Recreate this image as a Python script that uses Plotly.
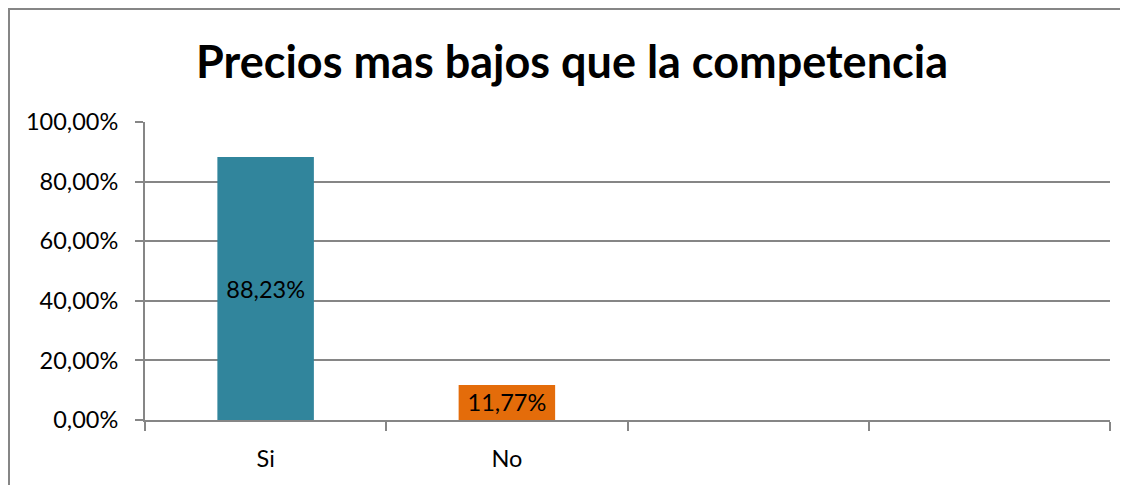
import plotly.graph_objects as go

## Data:
# ======================================
categorias = ["Si", "No"]
valores = [0.8823, 0.1177]
colores = ["#31859C", "#E46C0A"]
titulo = "Precios mas bajos que la competencia"

# posiciones van 0.5, 1.5 in 4 slots (Excel-like lege categorieen)
posities = [i + 0.5 for i in range(len(categorias))]
n_slots = 4

gris = "#868686"
fuente = "Lato, 'Open Sans', sans-serif"

## Figure:
# ======================================
fig = go.Figure()

fig.add_trace(go.Bar(
    x=posities,
    y=valores,
    width=0.4,
    marker=dict(color=colores, line=dict(width=0)),
    texttemplate="%{y:.2%}",
    textposition="inside",
    insidetextanchor="middle",
    textangle=0,
    textfont=dict(size=23.5, color="black", family=fuente),
    hoverinfo="none",
    showlegend=False,
))

# body heeft 8px marge -> figuur 1120x477
fig.update_layout(
    width=1120,
    height=477,
    separators=",.",
    paper_bgcolor="white",
    plot_bgcolor="white",
    margin=dict(l=137, r=18, t=114, b=65, autoexpand=False),
    font=dict(family=fuente, size=23.5, color="black"),
    title=dict(
        text="<b>" + titulo + "</b>",
        x=0.5036, xanchor="center",
        y=0.887, yanchor="middle",
        font=dict(size=45, color="black", family=fuente),
    ),
)

fig.update_xaxes(
    range=[0, n_slots],
    tickvals=posities,
    ticktext=categorias,
    ticks="",
    ticklabelstandoff=17,
    automargin=False,
    showgrid=False,
    showline=True,
    linecolor=gris,
    linewidth=2,
    zeroline=False,
    minor=dict(
        tickvals=list(range(n_slots + 1)),
        ticks="outside",
        ticklen=9,
        tickcolor=gris,
        tickwidth=2,
        showgrid=False,
    ),
    fixedrange=True,
)

fig.update_yaxes(
    range=[0, 1],
    dtick=0.2,
    tickformat=".2%",
    ticks="outside",
    ticklen=8,
    tickcolor=gris,
    tickwidth=2,
    ticklabelstandoff=12,
    automargin=False,
    showgrid=True,
    gridcolor=gris,
    gridwidth=2,
    showline=True,
    linecolor=gris,
    linewidth=2,
    zeroline=False,
    fixedrange=True,
)

## Outer border (alleen links en boven zichtbaar):
# --------------------------------------
bx0 = (1 - 137) / 965
by1 = (412 - 1) / 298
fig.add_shape(
    type="path",
    xref="paper", yref="paper",
    path=f"M {bx0},-0.5 L {bx0},{by1} L 1.3,{by1}",
    line=dict(color=gris, width=2),
    layer="below",
)

fig.write_html("out.html")
